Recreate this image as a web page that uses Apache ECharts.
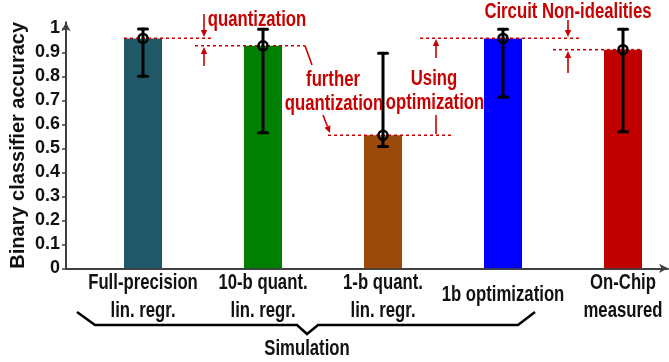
<!DOCTYPE html>
<html><head><meta charset="utf-8">
<script src="https://cdn.jsdelivr.net/npm/echarts@6/dist/echarts.min.js"></script>
<style>html,body{margin:0;padding:0;background:#fff}#c{width:669px;height:362px}</style>
</head><body><div id="c"></div>
<script>
// ---- data ----
const categories = ['Full-precision\nlin. regr.', '10-b quant.\nlin. regr.', '1-b quant.\nlin. regr.', '1b optimization', 'On-Chip\nmeasured'];
const xPositions = [1, 2, 3, 4, 5];
const meanAccuracy = [0.958, 0.927, 0.554, 0.958, 0.911];
const lowerAccuracy = [0.800, 0.565, 0.507, 0.714, 0.569];
const upperAccuracy = [0.997, 0.996, 0.896, 0.996, 0.996];
const barColors = ['#215868', '#008000', '#9c4a0c', '#0000ff', '#c00000'];
const yAxisTitle = 'Binary classifier accuracy';
const groupLabel = 'Simulation';

const FF = '"Liberation Sans", Arial, sans-serif';
const RED = '#c80000';
const SX = 0.76;
const chart = echarts.init(document.getElementById('c'));

function arrow(x1, y1, x2, y2) {
  const dx = x2 - x1, dy = y2 - y1, L = Math.hypot(dx, dy), ux = dx / L, uy = dy / L;
  const hl = 7, hw = 3.2;
  const bx = x2 - ux * hl, by = y2 - uy * hl;
  return [
    { type: 'line', shape: { x1, y1, x2: bx, y2: by }, style: { stroke: RED, lineWidth: 1.6 } },
    { type: 'polygon', shape: { points: [[x2, y2], [bx - uy * hw, by + ux * hw], [bx + uy * hw, by - ux * hw]] }, style: { fill: RED } }
  ];
}
function dash(x1, y1, x2, y2) {
  return { type: 'line', z: 5, shape: { x1, y1, x2, y2 }, style: { stroke: RED, lineWidth: 1.6, lineDash: [3, 3] } };
}
function line(x1, y1, x2, y2) {
  return { type: 'line', shape: { x1, y1, x2, y2 }, style: { stroke: RED, lineWidth: 1.6 } };
}
function txt(t, x, y, color, va) {
  return { type: 'text', x, y, scaleX: SX, z: 10,
    style: { text: t, x: 0, y: 0, align: 'center', verticalAlign: va || 'middle', lineHeight: 28,
      font: 'bold 22px ' + FF, fill: color || RED } };
}

chart.setOption({
  animation: false,
  grid: { left: 66, right: 1, top: 22.3, bottom: 93.7, outerBoundsMode: 'none', containLabel: false },
  xAxis: {
    type: 'value', min: 0.3583, max: 5.375,
    splitLine: { show: false },
    axisLine: { show: true, onZero: false, symbol: ['none', 'arrow'], symbolSize: [7, 9], lineStyle: { color: '#404040', width: 2 } },
    axisTick: { show: false },
    axisLabel: { show: false }
  },
  yAxis: {
    type: 'value', min: 0, max: 1.025, interval: 0.1,
    name: yAxisTitle, nameLocation: 'middle', nameGap: 38, nameMoveOverlap: false,
    nameTextStyle: { fontFamily: FF, fontWeight: 'bold', fontSize: 20, color: '#111' },
    splitLine: { show: false },
    axisLine: { show: true, symbol: ['none', 'arrow'], symbolSize: [7, 9], lineStyle: { color: '#404040', width: 2 } },
    axisTick: { show: true, inside: false, length: 4, lineStyle: { color: '#404040', width: 1.5 } },
    axisLabel: { margin: 6, fontFamily: FF, fontWeight: 'bold', fontSize: 18, color: '#111',
      formatter: v => (Math.abs(v - Math.round(v)) < 1e-9 ? String(Math.round(v)) : v.toFixed(1)) }
  },
  series: [
    {
      type: 'bar', barWidth: 38, z: 2,
      data: xPositions.map((x, i) => ({ value: [x, meanAccuracy[i]], itemStyle: { color: barColors[i] } }))
    },
    {
      type: 'custom', z: 6,
      data: xPositions.map((x, i) => [x, lowerAccuracy[i], upperAccuracy[i]]),
      renderItem: (params, api) => {
        const lo = api.coord([api.value(0), api.value(1)]);
        const hi = api.coord([api.value(0), api.value(2)]);
        const st = { stroke: '#000', lineWidth: 3, lineCap: 'round' };
        return { type: 'group', children: [
          { type: 'line', shape: { x1: lo[0], y1: lo[1], x2: hi[0], y2: hi[1] }, style: st },
          { type: 'line', shape: { x1: lo[0] - 4.5, y1: lo[1], x2: lo[0] + 4.5, y2: lo[1] }, style: st },
          { type: 'line', shape: { x1: hi[0] - 4.5, y1: hi[1], x2: hi[0] + 4.5, y2: hi[1] }, style: st }
        ] };
      }
    },
    {
      type: 'scatter', z: 7, symbol: 'circle', symbolSize: 9,
      itemStyle: { color: 'rgba(0,0,0,0)', borderColor: '#000', borderWidth: 2.5, opacity: 1 },
      data: xPositions.map((x, i) => [x, meanAccuracy[i]])
    }
  ]
});

// category labels placed through the x scale
const catLabels = categories.map((c, i) => {
  const px = chart.convertToPixel({ gridIndex: 0 }, [xPositions[i], 0]);
  const twoLine = c.indexOf('\n') >= 0;
  return txt(c, px[0], twoLine ? 269 : 295, '#111', twoLine ? 'top' : 'middle');
});

chart.setOption({
  graphic: [
    dash(124, 38.3, 212, 38.3),
    dash(195, 45.7, 305, 45.7),
    line(305, 45.7, 312, 65),
    ...arrow(323, 115, 330, 133),
    dash(328, 135.3, 452, 135.3),
    dash(420, 38.3, 580, 38.3),
    dash(553, 49.7, 642, 49.7),
    ...arrow(204, 14, 204, 37),
    ...arrow(204, 66, 204, 47),
    ...arrow(436, 58, 436, 39),
    line(436, 115, 436, 134),
    ...arrow(568, 20, 568, 37),
    ...arrow(568, 73, 568, 51),
    txt('quantization', 257, 20),
    txt('further', 333, 80),
    txt('quantization', 334, 104),
    txt('Using', 434, 79),
    txt('optimization', 435, 103),
    txt('Circuit Non-idealities', 568, 12),
    ...catLabels,
    { type: 'polyline', shape: { points: [[77, 312], [95, 325], [297, 325], [307, 334], [318, 325], [518, 325], [535, 312]] },
      style: { stroke: '#000', lineWidth: 2.5, fill: null } },
    txt(groupLabel, 307, 349, '#111')
  ]
});
</script></body></html>
